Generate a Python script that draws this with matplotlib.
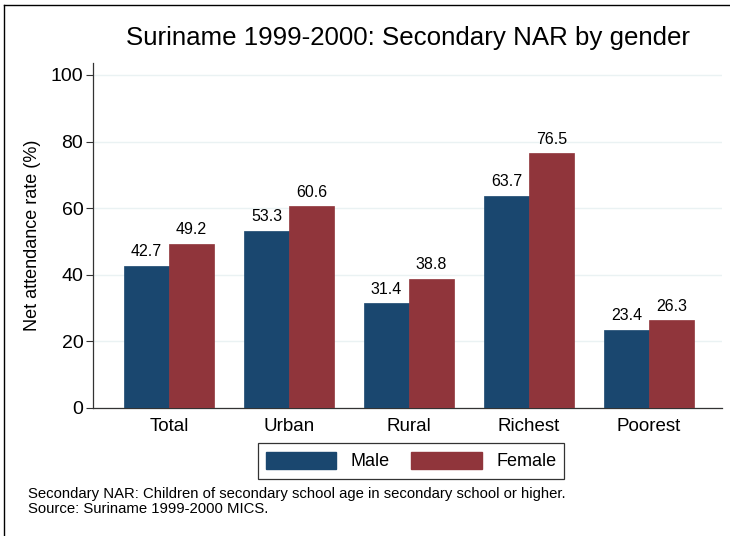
import matplotlib
matplotlib.use("Agg")
import matplotlib.pyplot as plt
import numpy as np
from matplotlib.patches import Patch
from matplotlib.lines import Line2D

plt.rcParams['font.family'] = ['Liberation Sans', 'DejaVu Sans']

categories = ["Total", "Urban", "Rural", "Richest", "Poorest"]
male = [42.7, 53.3, 31.4, 63.7, 23.4]
female = [49.2, 60.6, 38.8, 76.5, 26.3]
yticks = [0, 20, 40, 60, 80, 100]

male_color = "#1a476f"
female_color = "#90353b"

fig = plt.figure(figsize=(7.3, 5.36), dpi=100)
ax = fig.add_axes([93/730, 1-408/536, (722-93)/730, (408-63)/536])

x = np.arange(len(categories))
w = 0.375
b1 = ax.bar(x - w/2, male, w, color=male_color, edgecolor=male_color, linewidth=0.5, zorder=3)
b2 = ax.bar(x + w/2, female, w, color=female_color, edgecolor=female_color, linewidth=0.5, zorder=3)

for rect, v in zip(list(b1) + list(b2), male + female):
    ax.text(rect.get_x() + rect.get_width()/2, v + 2.0, f"{v:.1f}",
            ha="center", va="bottom", fontsize=11.5, color="black")

ax.set_xlim(-0.633, 4.608)
ax.set_ylim(0, 103.6)
ax.set_yticks(yticks)
ax.set_yticklabels([str(t) for t in yticks], fontsize=14)
ax.set_xticks(x)
ax.set_xticklabels(categories, fontsize=13.5)
ax.tick_params(axis="x", length=0, pad=7)
ax.tick_params(axis="y", length=5, width=0.8, color="#333333", pad=2)
ax.yaxis.grid(True, color="#eaf2f3", linewidth=1.0, zorder=0)
ax.set_axisbelow(True)
for s in ["top", "right"]:
    ax.spines[s].set_visible(False)
for s in ["left", "bottom"]:
    ax.spines[s].set_color("#333333")
    ax.spines[s].set_linewidth(0.9)

ax.set_ylabel("Net attendance rate (%)", fontsize=13, labelpad=7)

fig.text(408/730, 1-38/536, "Suriname 1999-2000: Secondary NAR by gender",
         ha="center", va="center", fontsize=18.6)

handles = [Patch(facecolor=male_color, edgecolor=male_color),
           Patch(facecolor=female_color, edgecolor=female_color)]
leg = fig.legend(handles, ["Male", "Female"], loc="center",
                 bbox_to_anchor=(411/730, 1-461/536), ncol=2, fontsize=13,
                 frameon=True, fancybox=False, edgecolor="black",
                 handlelength=3.9, handleheight=1.1, columnspacing=1.2,
                 handletextpad=0.8, borderpad=0.45)
leg.get_frame().set_linewidth(0.9)

fig.text(28/730, 1-494/536, "Secondary NAR: Children of secondary school age in secondary school or higher.",
         ha="left", va="center", fontsize=10.7)
fig.text(28/730, 1-509/536, "Source: Suriname 1999-2000 MICS.",
         ha="left", va="center", fontsize=10.7)

# outer frame lines
fig.add_artist(Line2D([4/730, 4/730], [0, 1-5/536], color="black", linewidth=1.0))
fig.add_artist(Line2D([4/730, 1], [1-5/536, 1-5/536], color="black", linewidth=1.0))

fig.savefig("out.png", dpi=100, facecolor="white")
